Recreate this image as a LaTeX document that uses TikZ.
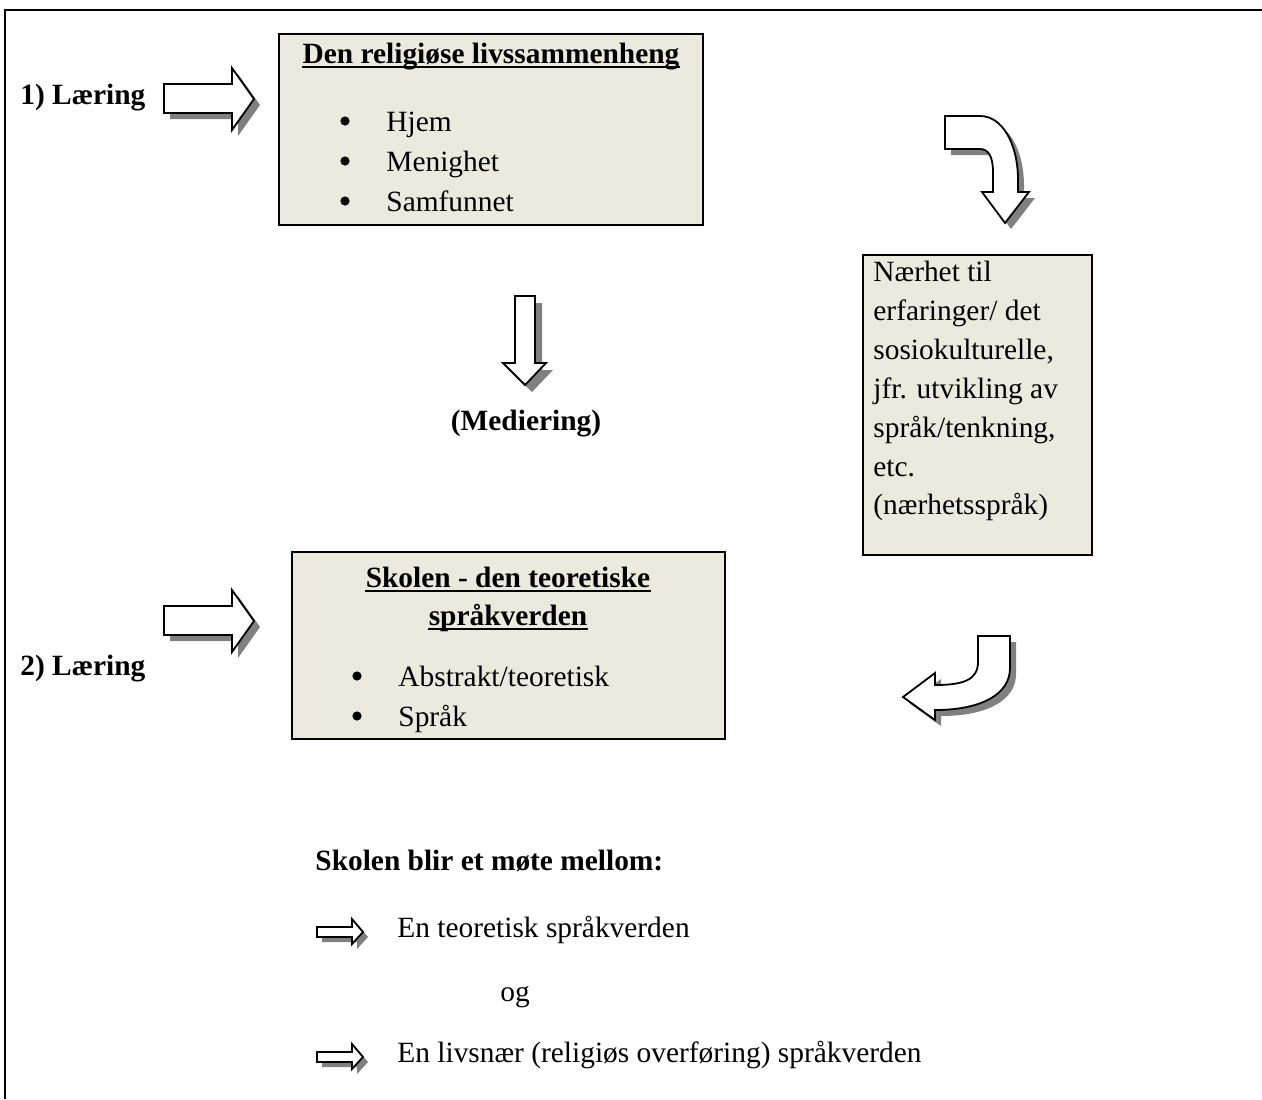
\documentclass[tikz,border=0pt]{standalone}
\usepackage{fontspec}
\setmainfont{Liberation Serif}
\usepackage{tikz}
\usetikzlibrary{positioning}

\definecolor{boxfill}{HTML}{ECE9DF}
\definecolor{shadowgray}{HTML}{808080}

\tikzset{
  box/.style={draw, line width=1pt, fill=boxfill, inner sep=0pt, outer sep=0pt, anchor=north west},
  txt/.style={inner sep=0pt, anchor=base west, font=\fontsize{14.7}{18}\selectfont},
  bullet/.style={circle, fill=black, inner sep=0pt, minimum size=4.6pt},
  bold/.style={txt, font=\fontsize{14.7}{18}\selectfont\bfseries},
  blk/.style={draw=black, fill=white, line width=0.9pt, line join=miter},
  shad/.style={fill=shadowgray, draw=none},
  uline/.style={line width=0.8pt}
}

\begin{document}
\begin{tikzpicture}[x=0.5pt, y=-0.5pt]
    \useasboundingbox (0,0) rectangle (1262,1099);
    % frame
    \draw[line width=1pt] (5,1099) -- (5,10) -- (1262,10);

    % boxes
    \node[box, minimum width=212pt, minimum height=95.5pt] (livs) at (279,34) {};
    \node[box, minimum width=114.5pt, minimum height=150pt] (naer) at (863,255) {};
    \node[box, minimum width=216.5pt, minimum height=93.5pt] (skole) at (292,552) {};

    % box 1
    \node[bold, anchor=base] (livstitle) at (491,63) {Den religiøse livssammenheng};
    \draw[uline] ([yshift=-2pt]livstitle.base west) -- ([yshift=-2pt]livstitle.base east);
    \foreach \item/\y [count=\i] in {Hjem/131, Menighet/171, Samfunnet/211} {
        \node[bullet] (livsb\i) at (345,\y-10) {};
        \node[txt] (livst\i) at (386,\y) {\item};
    }

    % box 2
    \foreach \line/\y [count=\i] in {{Nærhet til}/281, {erfaringer/ det}/320, {sosiokulturelle,}/359,
        {jfr. utvikling av}/398, {språk/tenkning,}/437, {etc.}/476, {(nærhetsspråk)}/514} {
        \node[txt] (naert\i) at (873,\y) {\line};
    }

    % box 3
    \node[bold, anchor=base] (skoletitlea) at (508,587) {Skolen - den teoretiske};
    \node[bold, anchor=base] (skoletitleb) at (508,625) {språkverden};
    \draw[uline] ([yshift=-2pt]skoletitlea.base west) -- ([yshift=-2pt]skoletitlea.base east);
    \draw[uline] ([yshift=-2pt]skoletitleb.base west) -- ([yshift=-2pt]skoletitleb.base east);
    \node[bullet] (skoleb1) at (357,676) {};
    \node[txt] (skolet1) at (398,686) {Abstrakt/teoretisk};
    \node[bullet] (skoleb2) at (357,716) {};
    \node[txt] (skolet2) at (398,726) {Språk};

    % labels
    \node[bold] (laering1) at (20,104) {1) Læring};
    \node[bold] (laering2) at (20,675) {2) Læring};
    \node[bold, anchor=base] (mediering) at (526,430) {(Mediering)};
    \node[bold] (mote) at (315,870) {Skolen blir et møte mellom:};
    \node[txt] (teori) at (397,937) {En teoretisk språkverden};
    \node[txt] (og) at (500,1001) {og};
    \node[txt] (livsnaer) at (397,1062) {En livsnær (religiøs overføring) språkverden};

    % big right arrows
    \foreach \dy in {0,522} {
        \foreach \s/\o in {shad/6, blk/0}
            \draw[\s, shift={(\o,\o+\dy)}] (164,84) -- (232,84) -- (232,68) -- (254,99)
                -- (232,130) -- (232,113) -- (164,113) -- cycle;
    }

    % small right arrows
    \foreach \dy in {0,125} {
        \foreach \s/\o in {shad/5, blk/0}
            \draw[\s, shift={(\o,\o+\dy)}] (317,927) -- (352,927) -- (352,919) -- (363,932)
                -- (352,944) -- (352,937) -- (317,937) -- cycle;
    }

    % down arrow
    \foreach \s/\o in {shad/7, blk/0}
        \draw[\s, shift={(\o,\o)}] (515,296) -- (535,296) -- (535,363) -- (546,363)
            -- (525,385) -- (503,363) -- (515,363) -- cycle;

    % bent arrow, top right
    \foreach \s/\o in {shad/6, blk/0}
        \draw[\s, shift={(\o,\o)}] (945,116) -- (980,116)
            .. controls (1003,116) and (1018,145) .. (1018,180) -- (1018,192) -- (1029,192)
            -- (1005,223) -- (982,192) -- (993,192) -- (993,172)
            .. controls (993,156) and (988,149) .. (980,149) -- (945,149) -- cycle;

    % bent arrow, bottom right
    \foreach \s/\o in {shad/6, blk/0}
        \draw[\s, shift={(\o,\o)}] (978,636) -- (1010,636) -- (1010,668)
            .. controls (1010,695) and (980,710) .. (935,710) -- (935,720) -- (903,697)
            -- (935,673) -- (935,685) .. controls (963,685) and (978,680) .. (978,662) -- cycle;
\end{tikzpicture}
\end{document}
